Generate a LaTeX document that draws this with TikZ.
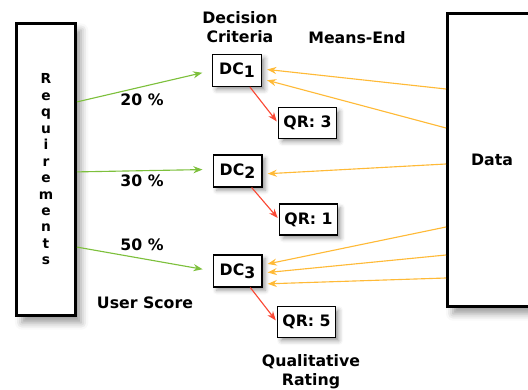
\documentclass[tikz,border=0pt]{standalone}
\usepackage{fontspec}
\setmainfont{DejaVu Sans}
\usetikzlibrary{arrows.meta}
\usetikzlibrary{shadows.blur}
\definecolor{score}{RGB}{125,192,60}
\definecolor{meansend}{RGB}{255,186,55}
\definecolor{rating}{RGB}{250,72,52}

\tikzset{
  every node/.style={font=\fontsize{11.2}{13.5}\selectfont\bfseries},
  bigbox/.style={draw,line width=2pt,fill=white,inner sep=0pt,
    blur shadow={shadow xshift=4pt,shadow yshift=-5pt,shadow blur radius=5pt}},
  smallbox/.style={draw,line width=1pt,fill=white,inner sep=0pt,
    minimum width=1.215cm,minimum height=0.79cm,
    blur shadow={shadow xshift=2.5pt,shadow yshift=-2.5pt,shadow blur radius=3pt}},
  qrbox/.style={smallbox,minimum width=1.44cm,minimum height=0.765cm},
  caption/.style={align=center},
  scorearrow/.style={score,line width=0.8pt,-{Stealth[length=6.5pt,width=5pt]},shorten >=0.25cm},
  meansarrow/.style={meansend,line width=0.8pt,-{Stealth[length=6.5pt,width=5pt]},shorten >=0.13cm},
  ratingarrow/.style={rating,line width=0.8pt,-{Stealth[length=6.5pt,width=5pt]},shorten >=0.05cm}
}

\newcommand{\dcsub}[1]{DC\raisebox{-0.35ex}{#1}}

\begin{document}
\begin{tikzpicture}

  \useasboundingbox (0,0) rectangle (13.2,9.725);

  % outer boxes
  \node[bigbox,minimum width=1.48cm,minimum height=7.305cm,
    font=\fontsize{9.8}{11.7}\selectfont\bfseries,align=center]
    (req) at (1.15,5.4875) {R\\e\\q\\u\\i\\r\\e\\m\\e\\n\\t\\s};
  \node[bigbox,minimum width=2.23cm,minimum height=7.33cm] (data) at (12.3,5.725) {Data};

  % decision criteria
  \node[smallbox] (dc1) at (5.925,7.9625) {\dcsub{1}};
  \node[smallbox] (dc2) at (5.9375,5.45) {\dcsub{2}};
  \node[smallbox] (dc3) at (5.9375,2.95) {\dcsub{3}};

  % qualitative ratings
  \node[qrbox] (qr3) at (7.6875,6.65) {QR: 3};
  \node[qrbox] (qr1) at (7.7125,4.2375) {QR: 1};
  \node[qrbox] (qr5) at (7.6625,1.675) {QR: 5};

  % texts
  \node[caption] (crit) at (6.0,9.05) {Decision\\Criteria};
  \node[caption] (means) at (8.925,8.775) {Means-End};
  \node[caption] (w1) at (3.55,7.225) {20 \%};
  \node[caption] (w2) at (3.55,5.2) {30 \%};
  \node[caption] (w3) at (3.55,3.6) {50 \%};
  \node[caption] (user) at (3.625,2.15) {User Score};
  \node[caption,font=\fontsize{11.2}{13.3}\selectfont\bfseries] (qual) at (7.775,0.425) {Qualitative\\Rating};

  % user score
  \draw[scorearrow] ([yshift=1.69cm]req.east) -- (dc1.west);
  \draw[scorearrow] ([yshift=-0.06cm]req.east) -- ([yshift=0.04cm]dc2.west);
  \draw[scorearrow] ([yshift=-1.94cm]req.east) -- (dc3.west);

  % rating
  \draw[ratingarrow] (dc1) -- (qr3.west);
  \draw[ratingarrow] (dc2) -- (qr1.west);
  \draw[ratingarrow] (dc3) -- (qr5.west);

  % means-end
  \draw[meansarrow] ([yshift=1.775cm]data.west) -- ([yshift=0.04cm]dc1.east);
  \draw[meansarrow] ([yshift=0.8cm]data.west) -- ([yshift=-0.21cm]dc1.east);
  \draw[meansarrow] ([yshift=-0.1cm]data.west) -- ([yshift=-0.075cm]dc2.east);
  \draw[meansarrow] ([yshift=-1.675cm]data.west) -- ([yshift=0.15cm]dc3.east);
  \draw[meansarrow] ([yshift=-2.375cm]data.west) -- ([yshift=-0.05cm]dc3.east);
  \draw[meansarrow] ([yshift=-2.95cm]data.west) -- ([yshift=-0.325cm]dc3.east);

\end{tikzpicture}
\end{document}
